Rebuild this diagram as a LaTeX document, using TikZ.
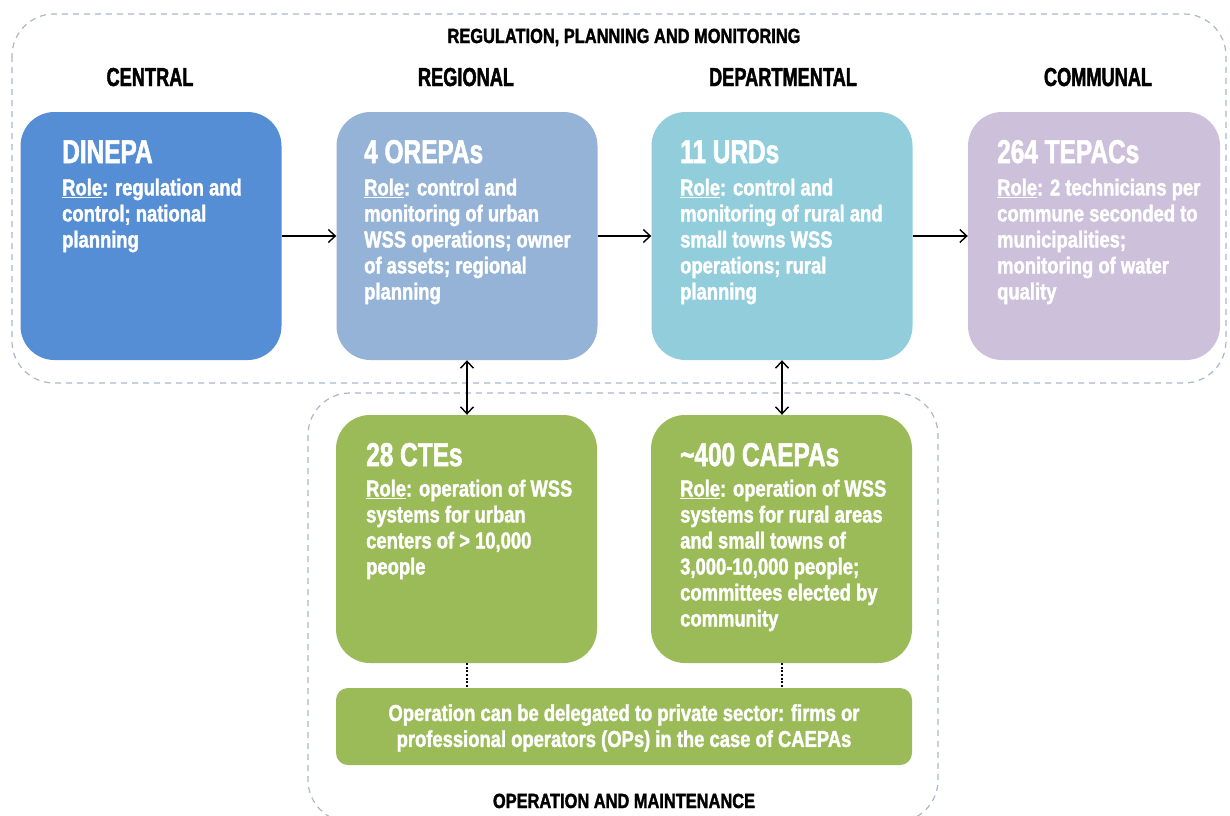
\documentclass[tikz,border=0pt]{standalone}
\usepackage{fontspec}
\setmainfont{Liberation Sans}
\newfontfamily\headfont[FakeStretch=0.7,FakeBold=1.6]{Liberation Sans}
\newfontfamily\titlefont[FakeStretch=0.74,FakeBold=1.6]{Liberation Sans}
\newfontfamily\bodyfont[FakeStretch=0.8,FakeBold=1.6]{Liberation Sans}
\usetikzlibrary{arrows.meta}

\definecolor{cDinepa}{HTML}{558ED5}
\definecolor{cOrepa}{HTML}{95B3D7}
\definecolor{cUrd}{HTML}{92CDDC}
\definecolor{cTepac}{HTML}{CCC0DA}
\definecolor{cGreen}{HTML}{9BBB59}
\definecolor{cFrame}{HTML}{A9B8CB}

\newcommand{\rolelabel}{\underline{Role}:}

\tikzset{
  orgbox/.style={rectangle, rounded corners=34pt, minimum width=261pt, minimum height=248pt, inner sep=0pt, draw=none},
  widebox/.style={rectangle, rounded corners=12pt, minimum width=576pt, minimum height=77pt, inner sep=0pt, draw=none},
  boxtitle/.style={anchor=base west, inner sep=0pt, text=white, font=\titlefont\bfseries\fontsize{33}{36}\selectfont},
  boxbody/.style={anchor=north west, inner sep=0pt, text=white, align=left, font=\bodyfont\bfseries\fontsize{23}{26}\selectfont},
  colhead/.style={anchor=base, inner sep=0pt, font=\headfont\bfseries\fontsize{26}{30}\selectfont},
  framehead/.style={anchor=base, inner sep=0pt, font=\bodyfont\bfseries\fontsize{20.5}{24}\selectfont},
  frame/.style={draw=cFrame, line width=1.2pt, dash pattern=on 6pt off 5pt, rounded corners=42pt},
  tip/.style={},
  flow/.style={draw=black, line width=1.4pt, -{Straight Barb[length=7pt,width=13pt,line width=1.4pt]}},
  biflow/.style={draw=black, line width=1.4pt, {Straight Barb[length=7pt,width=13pt,line width=1.4pt]}-{Straight Barb[length=7pt,width=13pt,line width=1.4pt]}},
  link/.style={draw=black, line width=2pt, dash pattern=on 2pt off 1.6pt}
}

\begin{document}
\begin{tikzpicture}[x=1pt,y=-1pt]
\useasboundingbox[fill=white] (0,0) rectangle (1230,815);

% dashed frames of the two spheres
\draw[frame] (12,14) rectangle (1226,383);
\draw[frame] (308,393) rectangle (938,822);

% frame and column headings
\node[framehead] (hReg) at (624,43) {REGULATION, PLANNING AND MONITORING};
\node[colhead] (hCen) at (150,86) {CENTRAL};
\node[colhead] (hRgn) at (466,86) {REGIONAL};
\node[colhead] (hDep) at (783,86) {DEPARTMENTAL};
\node[colhead] (hCom) at (1098,86) {COMMUNAL};
\node[framehead] (hOam) at (624,808) {OPERATION AND MAINTENANCE};

% upper row of bodies
\node[orgbox, fill=cDinepa] (din) at (151,236) {};
\node[orgbox, fill=cOrepa]  (ore) at (467,236) {};
\node[orgbox, fill=cUrd]    (urd) at (782,236) {};
\node[orgbox, fill=cTepac, minimum width=252pt] (tep) at (1094,236) {};

% operators
\node[orgbox, fill=cGreen] (cte) at (466.5,539) {};
\node[orgbox, fill=cGreen] (cae) at (781.5,539) {};
\node[widebox, fill=cGreen] (dlg) at (624,726.5) {};

% texts of the upper row
\node[boxtitle] (tDin) at (62,163) {DINEPA};
\node[boxbody] (bDin) at (62,177) {\strut\rolelabel{} regulation and\\control; national\\planning};

\node[boxtitle] (tOre) at (364,163) {4 OREPAs};
\node[boxbody] (bOre) at (364,177) {\strut\rolelabel{} control and\\monitoring of urban\\WSS operations; owner\\of assets; regional\\planning};

\node[boxtitle] (tUrd) at (680,163) {11 URDs};
\node[boxbody] (bUrd) at (680,177) {\strut\rolelabel{} control and\\monitoring of rural and\\small towns WSS\\operations; rural\\planning};

\node[boxtitle] (tTep) at (997,163) {264 TEPACs};
\node[boxbody] (bTep) at (997,177) {\strut\rolelabel{} 2 technicians per\\commune seconded to\\municipalities;\\monitoring of water\\quality};

% texts of the operators
\node[boxtitle] (tCte) at (366,466) {28 CTEs};
\node[boxbody] (bCte) at (366,478) {\strut\rolelabel{} operation of WSS\\systems for urban\\centers of > 10,000\\people};

\node[boxtitle] (tCae) at (680,466) {\textasciitilde 400 CAEPAs};
\node[boxbody] (bCae) at (680,478) {\strut\rolelabel{} operation of WSS\\systems for rural areas\\and small towns of\\3,000-10,000 people;\\committees elected by\\community};

\node[boxbody, anchor=center, align=center] (bDlg) at (624,728) {Operation can be delegated to private sector: firms or\\professional operators (OPs) in the case of CAEPAs};

% connectors
\draw[flow] (din.east) -- (ore.west);
\draw[flow] (ore.east) -- (urd.west);
\draw[flow] (urd.east) -- (tep.west);
\draw[biflow] (ore.south) -- (ore.south |- cte.north);
\draw[biflow] (urd.south) -- (urd.south |- cae.north);
\draw[link] (cte.south) -- (cte.south |- dlg.north);
\draw[link] (cae.south) -- (cae.south |- dlg.north);
\end{tikzpicture}
\end{document}
